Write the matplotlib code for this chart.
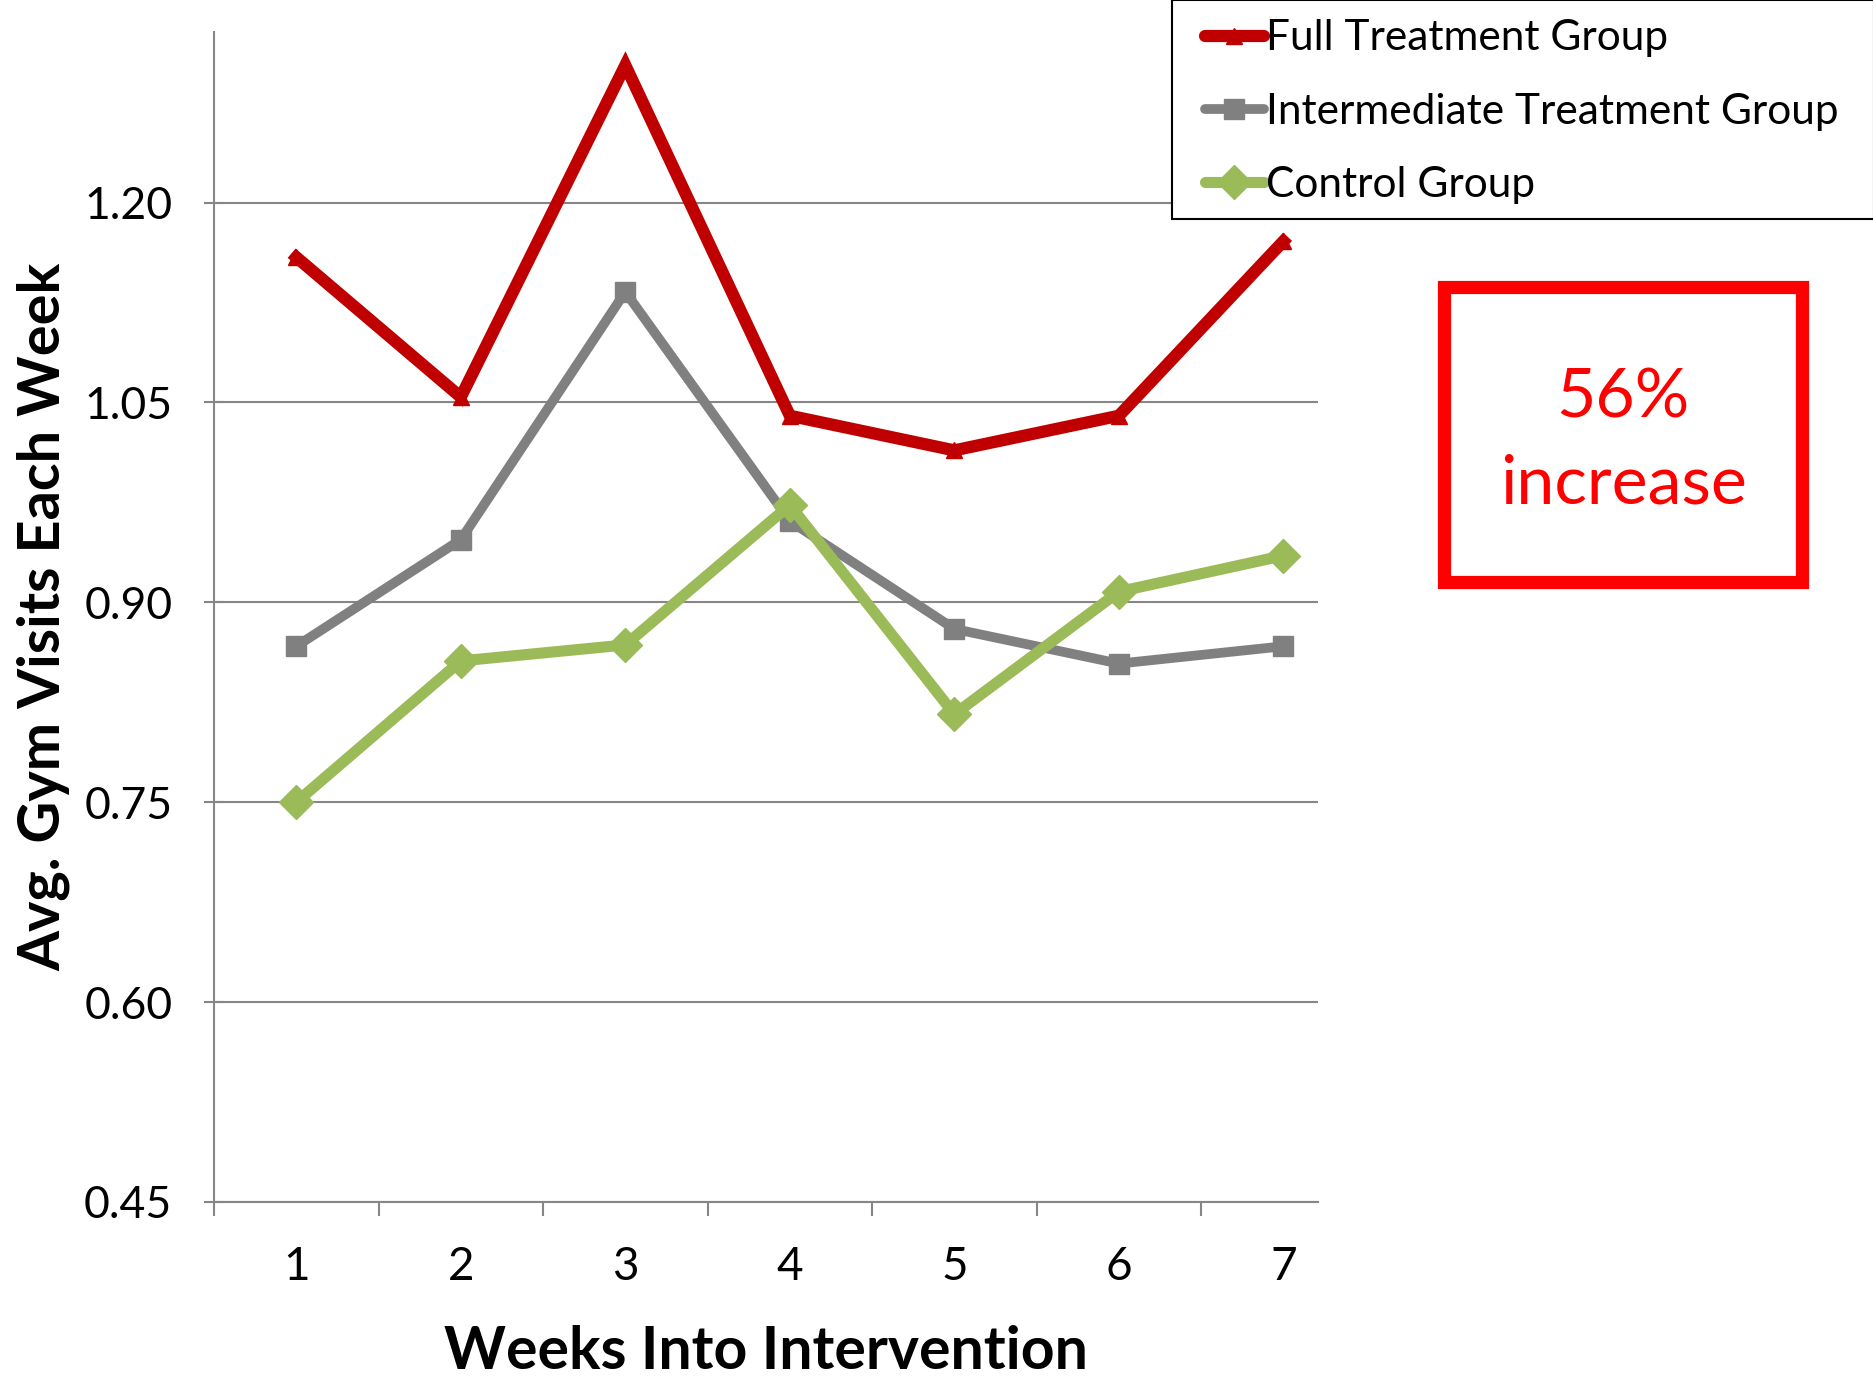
import matplotlib
matplotlib.use("Agg")
import matplotlib.pyplot as plt
from matplotlib.patches import Rectangle
from matplotlib.ticker import FixedLocator, FormatStrFormatter

plt.rcParams['font.family'] = ['Lato', 'DejaVu Sans']

# Weekly average gym visits per group
weeks = [1, 2, 3, 4, 5, 6, 7]
full_treatment = [1.159, 1.054, 1.303, 1.040, 1.014, 1.040, 1.171]
intermediate_treatment = [0.867, 0.947, 1.133, 0.961, 0.880, 0.854, 0.867]
control = [0.750, 0.856, 0.868, 0.973, 0.816, 0.908, 0.935]

series_labels = ["Full Treatment Group", "Intermediate Treatment Group", "Control Group"]
y_ticks = [0.45, 0.60, 0.75, 0.90, 1.05, 1.20]
callout_text = "56%\nincrease"

fig = plt.figure(figsize=(18.74, 13.83), dpi=100)
ax = fig.add_axes([0.1142, 0.1309, 0.7033 - 0.1142, 0.9769 - 0.1309])

grid_gray = "#868686"
red = "#C00000"
gray = "#808080"
green = "#9BBB59"

ax.plot(weeks, full_treatment, color=red, lw=8.8, marker="^", ms=12,
        solid_joinstyle="miter", label=series_labels[0], zorder=3)
ax.plot(weeks, intermediate_treatment, color=gray, lw=7, marker="s", ms=14,
        solid_joinstyle="miter", label=series_labels[1], zorder=3)
ax.plot(weeks, control, color=green, lw=8, marker="D", ms=17,
        solid_joinstyle="miter", label=series_labels[2], zorder=3)

ax.set_xlim(0.5, 7.21)
ax.set_ylim(0.45, 1.328)

ax.yaxis.set_major_locator(FixedLocator(y_ticks))
ax.yaxis.set_major_formatter(FormatStrFormatter("%.2f"))
ax.set_xticks(weeks)
ax.set_xticks([0.5, 1.5, 2.5, 3.5, 4.5, 5.5, 6.5], minor=True)

ax.grid(axis="y", color=grid_gray, lw=1.5, zorder=0)
for side in ("top", "right"):
    ax.spines[side].set_visible(False)
for side in ("left", "bottom"):
    ax.spines[side].set_color(grid_gray)
    ax.spines[side].set_linewidth(1.5)

ax.tick_params(axis="y", which="major", direction="inout", length=14, width=1.5,
               color=grid_gray, labelsize=32, pad=23)
ax.tick_params(axis="x", which="major", length=0, labelsize=33, pad=32)
ax.tick_params(axis="x", which="minor", direction="out", length=10, width=1.5,
               color=grid_gray)

ax.set_xlabel("Weeks Into Intervention", fontsize=42.5, fontweight="bold", labelpad=26)
ax.set_ylabel("Avg. Gym Visits Each Week", fontsize=41.5, fontweight="bold", labelpad=10)

# Legend box pinned to the top-right corner of the figure, opaque over the plot
legend_box = Rectangle((0.6254, 0.8416), 1.0 - 0.6254, 1.0 - 0.8416,
                       transform=fig.transFigure, facecolor="white",
                       edgecolor="black", lw=1.5, zorder=4)
fig.add_artist(legend_box)
leg = fig.legend(loc="upper left", bbox_to_anchor=(0.6429, 0.986),
                 fontsize=30.5, frameon=False, handlelength=1.4,
                 handletextpad=0.05, labelspacing=0.83, borderpad=0.0,
                 borderaxespad=0.0)
leg.set_zorder(6)
for h in leg.legend_handles:
    h.set_solid_capstyle("round")

# Callout box with the headline figure
callout_box = Rectangle((0.7705, 0.5792), 0.9616 - 0.7705, 0.7925 - 0.5792,
                        transform=fig.transFigure, fill=False,
                        edgecolor="#FF0000", lw=9.5, zorder=4)
fig.add_artist(callout_box)
fig.text(0.8661, 0.6805, callout_text, color="#FF0000", fontsize=49,
         ha="center", va="center", linespacing=1.48)

fig.savefig("out.png", dpi=100)
